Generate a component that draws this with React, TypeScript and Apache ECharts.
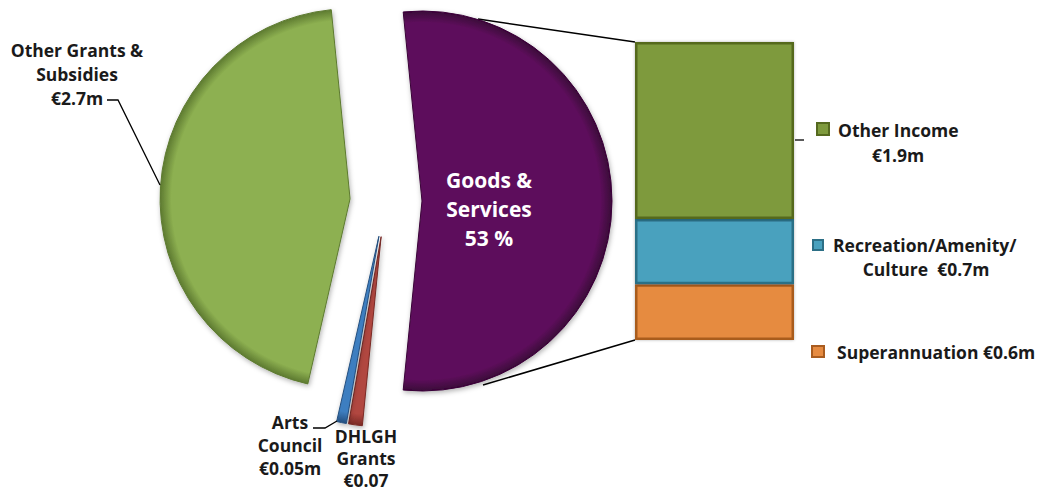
import React, { useEffect, useRef } from "react";
import * as echarts from "echarts";

// Breakdown bar (Goods & Services split)
const barNames = ["Other Income", "Recreation/Amenity/Culture", "Superannuation"];
const barValues = [1.9, 0.7, 0.6];
const barValueLabels = ["€1.9m", "€0.7m", "€0.6m"];

// Other pie slices (clockwise after Goods & Services)
const pieOtherNames = ["DHLGH Grants", "Arts Council", "Other Grants & Subsidies"];
const pieOtherValues = [0.07, 0.05, 2.7];
const pieOtherValueLabels = ["€0.07", "€0.05m", "€2.7m"];
const goodsName = "Goods & Services";

const FONT = "'Open Sans', 'Noto Sans', sans-serif";
const INK = "#1a1a1a";

export default function App() {
  const ref = useRef<HTMLDivElement>(null);

  useEffect(() => {
    if (!ref.current) return;
    const chart = echarts.init(ref.current, undefined, { renderer: "svg" });

    const goodsValue = barValues.reduce((a, b) => a + b, 0);
    const total = goodsValue + pieOtherValues.reduce((a, b) => a + b, 0);
    const goodsShare = goodsValue / total;
    const startAngle = (goodsShare * 360) / 2;
    const goodsPct = Math.round(goodsShare * 100);

    const CX = 386;
    const CY = 201;
    const R = 190;

    const pieColors = ["#5D0F5B", "#B1463F", "#3E7EC0", "#8DB051"];
    const pieDark = ["#3a0638", "#7a2a25", "#244f7f", "#5d7a30"];
    const barColors = ["#7E9A3D", "#49A1BE", "#E68B41"];
    const barBorders = ["#55691f", "#2c6f86", "#a95c1f"];

    const radial = (c: string, d: string) => ({
      type: "radial",
      x: CX,
      y: CY,
      r: R,
      global: true,
      colorStops: [
        { offset: 0, color: c },
        { offset: 0.94, color: c },
        { offset: 1, color: d },
      ],
    });

    const pieData = [
      { name: goodsName, value: goodsValue },
      ...pieOtherNames.map((n, i) => ({ name: n, value: pieOtherValues[i] })),
    ].map((d, i) => {
      const style = {
        color: radial(pieColors[i], pieDark[i]),
        borderColor: pieDark[i],
        borderWidth: 1,
        shadowBlur: 5,
        shadowColor: "rgba(0,0,0,0.3)",
        shadowOffsetX: 1,
        shadowOffsetY: 2,
      };
      return { ...d, selected: true, itemStyle: style, select: { itemStyle: style } };
    });

    // stacked bottom->top: Superannuation, Recreation, Other Income
    const stackOrder = [2, 1, 0];
    const barSeries = stackOrder.map((idx) => ({
      type: "bar",
      name: barNames[idx],
      stack: "goods",
      data: [barValues[idx]],
      barWidth: "100%",
      barCategoryGap: 0,
      silent: true,
      itemStyle: {
        color: barColors[idx],
        borderColor: barBorders[idx],
        borderWidth: 2.5,
        shadowBlur: 3,
        shadowColor: "rgba(0,0,0,0.3)",
      },
    }));

    const textStyle = (size: number, color = INK) => ({
      fontFamily: FONT,
      fontWeight: "bold",
      fontSize: size,
      fill: color,
    });

    const graphic: any[] = [
      // connector lines from the pie slice to the bar
      { type: "line", z: 1, shape: { x1: 478, y1: 19, x2: 635, y2: 42 }, style: { stroke: "#000", lineWidth: 1.5 } },
      { type: "line", z: 1, shape: { x1: 483, y1: 385, x2: 635, y2: 340 }, style: { stroke: "#000", lineWidth: 1.5 } },
      // Goods & Services inside label
      {
        type: "text",
        z: 100,
        style: {
          ...textStyle(21, "#ffffff"),
          text: `Goods &\nServices\n${goodsPct} %`,
          x: 489,
          y: 209,
          align: "center",
          verticalAlign: "middle",
          lineHeight: 29,
        },
      },
      // Other Grants label + leader
      {
        type: "text",
        z: 100,
        style: {
          ...textStyle(17.5),
          text: `Other Grants &\nSubsidies\n${pieOtherValueLabels[2]}`,
          x: 77,
          y: 74,
          align: "center",
          verticalAlign: "middle",
          lineHeight: 24,
        },
      },
      { type: "polyline", z: 100, shape: { points: [[107, 100], [118, 100], [160, 185]] }, style: { stroke: "#000", lineWidth: 1.3, fill: "none" } },
      // Arts Council
      {
        type: "text",
        z: 100,
        style: {
          ...textStyle(17.5),
          text: `Arts\nCouncil\n${pieOtherValueLabels[1]}`,
          x: 290,
          y: 445,
          align: "center",
          verticalAlign: "middle",
          lineHeight: 23,
        },
      },
      { type: "polyline", z: 100, shape: { points: [[313, 428], [325, 428], [337, 421]] }, style: { stroke: "#000", lineWidth: 1.3, fill: "none" } },
      // DHLGH Grants
      {
        type: "text",
        z: 100,
        style: {
          ...textStyle(17.5),
          text: `DHLGH\nGrants\n${pieOtherValueLabels[0]}`,
          x: 366,
          y: 458,
          align: "center",
          verticalAlign: "middle",
          lineHeight: 22,
        },
      },
      // leader from bar to Other Income label
      { type: "line", z: 100, shape: { x1: 795, y1: 140, x2: 804, y2: 140 }, style: { stroke: "#000", lineWidth: 1.3 } },
      // legend-like labels for bar segments
      { type: "rect", z: 100, shape: { x: 817, y: 123, width: 12, height: 12 }, style: { fill: barColors[0], stroke: barBorders[0], lineWidth: 2 } },
      { type: "text", z: 100, style: { ...textStyle(17.5), text: barNames[0], x: 838, y: 130, align: "left", verticalAlign: "middle" } },
      { type: "text", z: 100, style: { ...textStyle(17.5), text: barValueLabels[0], x: 898, y: 155, align: "center", verticalAlign: "middle" } },

      { type: "rect", z: 100, shape: { x: 813, y: 240, width: 10, height: 10 }, style: { fill: barColors[1], stroke: barBorders[1], lineWidth: 2 } },
      { type: "text", z: 100, style: { ...textStyle(17.5), text: "Recreation/Amenity/", x: 833, y: 245, align: "left", verticalAlign: "middle" } },
      { type: "text", z: 100, style: { ...textStyle(17.5), text: `Culture  ${barValueLabels[1]}`, x: 926, y: 269, align: "center", verticalAlign: "middle" } },

      { type: "rect", z: 100, shape: { x: 812, y: 346, width: 12, height: 11 }, style: { fill: barColors[2], stroke: barBorders[2], lineWidth: 2 } },
      { type: "text", z: 100, style: { ...textStyle(17.5), text: `${barNames[2]} ${barValueLabels[2]}`, x: 837, y: 352, align: "left", verticalAlign: "middle" } },
    ];

    chart.setOption({
      animation: false,
      grid: { left: 635, top: 42, width: 159, height: 298 },
      xAxis: { type: "category", data: [""], show: false },
      yAxis: { type: "value", min: 0, max: goodsValue, show: false },
      series: [
        {
          type: "pie",
          center: [CX, CY],
          radius: R,
          startAngle,
          clockwise: true,
          selectedMode: "multiple",
          selectedOffset: 36,
          silent: true,
          label: { show: false },
          labelLine: { show: false },
          emphasis: { disabled: true },
          data: pieData,
        },
        ...barSeries,
      ],
      graphic,
    });

    return () => chart.dispose();
  }, []);

  return (
    <div
      ref={ref}
      style={{ position: "fixed", left: 0, top: 0, width: 1039, height: 491, background: "#ffffff" }}
    />
  );
}
